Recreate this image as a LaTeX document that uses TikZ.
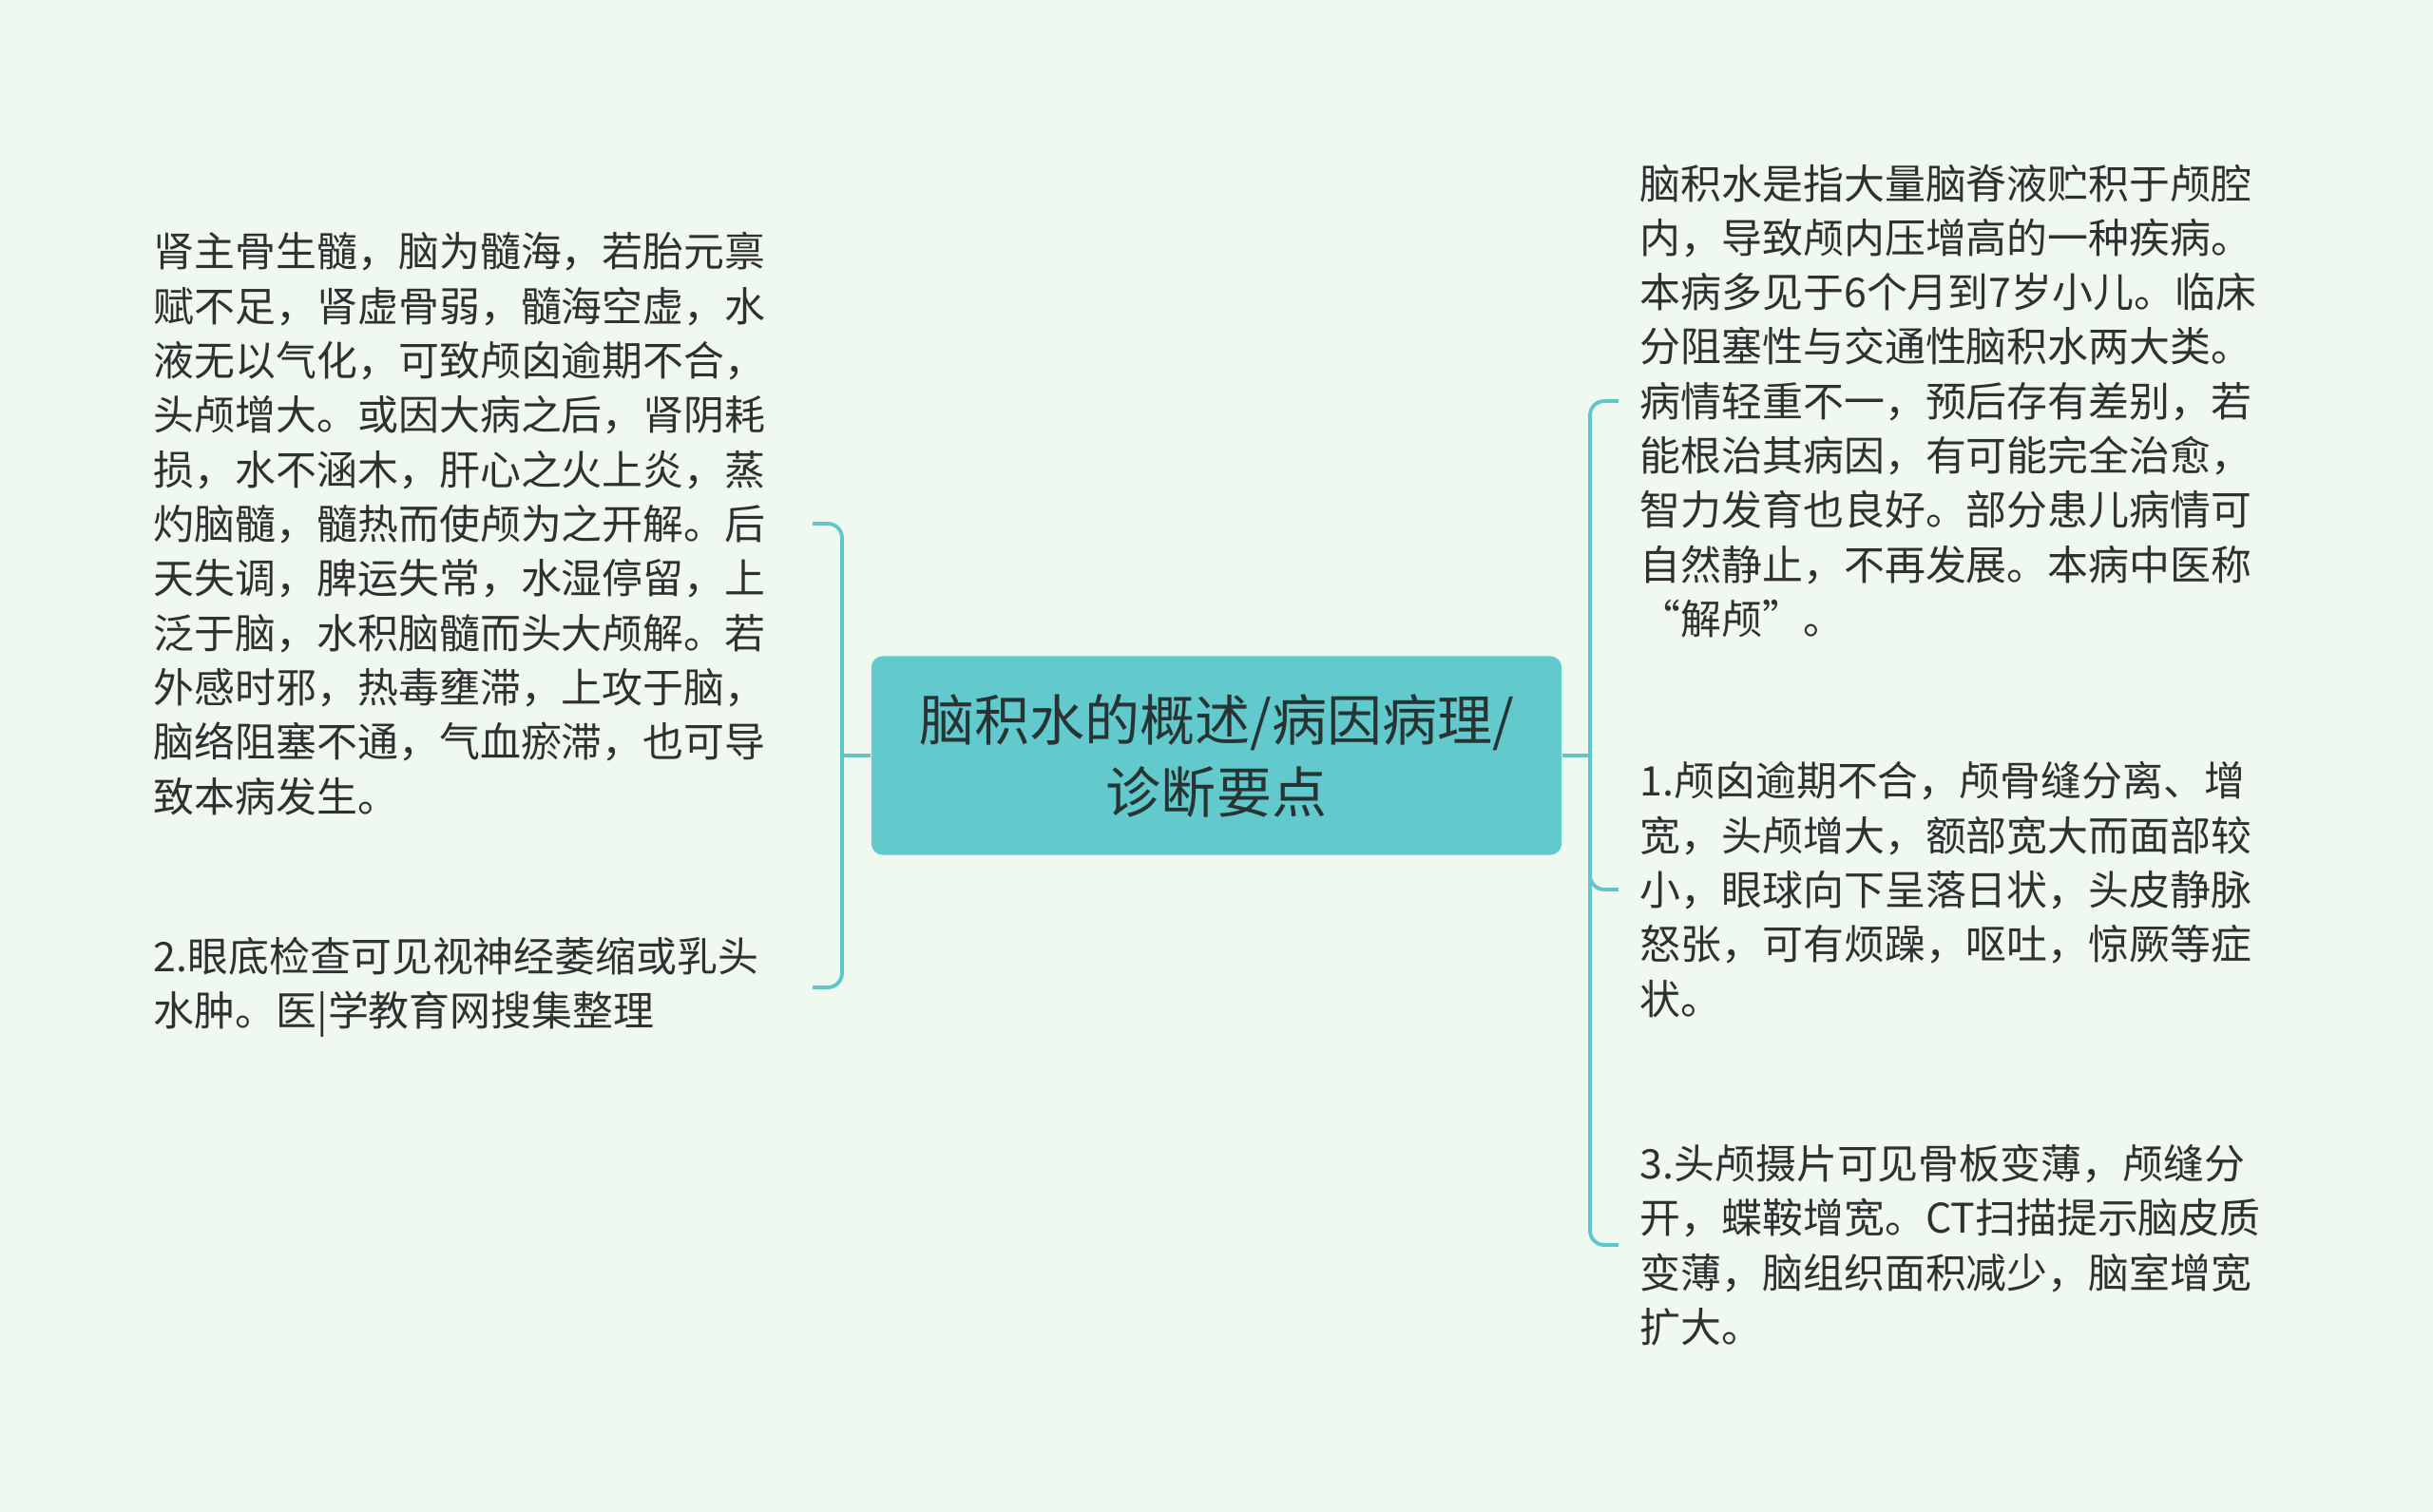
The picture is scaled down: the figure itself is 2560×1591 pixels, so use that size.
\documentclass[tikz,border=0pt]{standalone}
\usepackage{fontspec}
\setmainfont{Noto Sans CJK SC}
\definecolor{mint}{RGB}{240,249,240}
\definecolor{teal1}{RGB}{98,202,205}
\definecolor{teal2}{RGB}{96,198,202}
\definecolor{ink}{RGB}{48,48,48}
\definecolor{ink2}{RGB}{40,52,52}

\begin{document}
\begin{tikzpicture}[x=0.01cm,y=-0.01cm,
  hub/.style={fill=teal1, rounded corners=0.12cm, minimum width=7.26cm,
    minimum height=2.09cm, align=center, text=ink2,
    font=\fontsize{16.5pt}{21.6pt}\selectfont},
  leaf/.style={text width=6.7cm, inner xsep=0.22cm, inner ysep=0pt,
    align=left, text=ink, font=\fontsize{12.2pt}{16.3pt}\selectfont},
  branch/.style={draw=teal2, line width=1.1pt, rounded corners=0.15cm}]
\fill[mint] (0,0) rectangle (2560,1591);
\useasboundingbox (0,0) rectangle (2560,1591);

\node[hub] (hub) at (1280,795) {脑积水的概述/病因病理/\\诊断要点};

% left side
\node[leaf, anchor=east] (lt1) at (855,551) {肾主骨生髓，脑为髓海，若胎元禀\\
赋不足，肾虚骨弱，髓海空虚，水\\
液无以气化，可致颅囟逾期不合，\\
头颅增大。或因大病之后，肾阴耗\\
损，水不涵木，肝心之火上炎，蒸\\
灼脑髓，髓热而使颅为之开解。后\\
天失调，脾运失常，水湿停留，上\\
泛于脑，水积脑髓而头大颅解。若\\
外感时邪，热毒壅滞，上攻于脑，\\
脑络阻塞不通，气血瘀滞，也可导\\
致本病发生。};
\node[leaf, anchor=east] (lt2) at (855,1039) {2.眼底检查可见视神经萎缩或乳头\\
水肿。医|学教育网搜集整理};

% right side
\node[leaf, anchor=west] (rt1) at (1703,422) {脑积水是指大量脑脊液贮积于颅腔\\
内，导致颅内压增高的一种疾病。\\
本病多见于6个月到7岁小儿。临床\\
分阻塞性与交通性脑积水两大类。\\
病情轻重不一，预后存有差别，若\\
能根治其病因，有可能完全治愈，\\
智力发育也良好。部分患儿病情可\\
自然静止，不再发展。本病中医称\\
“解颅”。};
\node[leaf, anchor=west] (rt2) at (1703,936) {1.颅囟逾期不合，颅骨缝分离、增\\
宽，头颅增大，额部宽大而面部较\\
小，眼球向下呈落日状，头皮静脉\\
怒张，可有烦躁，呕吐，惊厥等症\\
状。};
\node[leaf, anchor=west] (rt3) at (1703,1310) {3.头颅摄片可见骨板变薄，颅缝分\\
开，蝶鞍增宽。CT扫描提示脑皮质\\
变薄，脑组织面积减少，脑室增宽\\
扩大。};

\coordinate (lspine) at (886,795);
\coordinate (rspine) at (1673,795);
\draw[branch] (hub.west) -- (lspine);
\draw[branch] (lt1.east) -| (lspine) |- (lt2.east);
\draw[branch] (hub.east) -- (rspine);
\draw[branch] (rt1.west) -| (rspine) |- (rt3.west);
\draw[branch] (rspine) |- (rt2.west);
\end{tikzpicture}
\end{document}
